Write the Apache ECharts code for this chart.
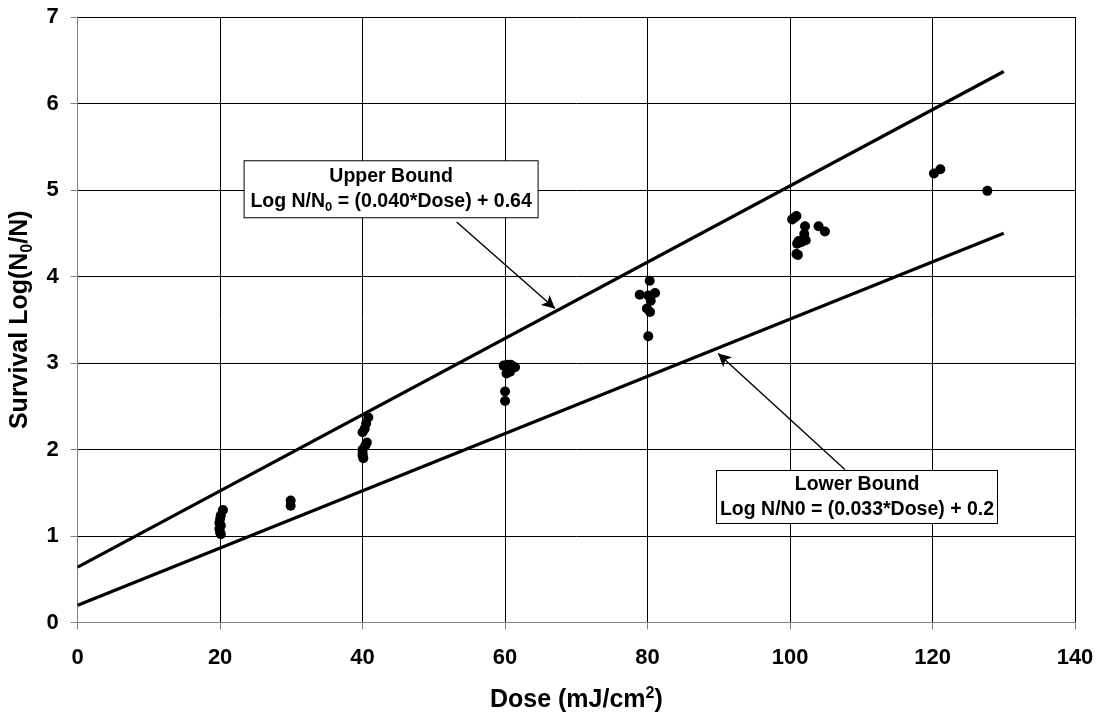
<!DOCTYPE html>
<html>
<head>
<meta charset="utf-8">
<script src="https://cdn.jsdelivr.net/npm/echarts@6/dist/echarts.min.js"></script>
<style>
html,body{margin:0;padding:0;background:#fff;}
#chart{width:1099px;height:718px;}
</style>
</head>
<body>
<div id="chart"></div>
<script>
// Measured points: dose (mJ/cm2) and survival log(N0/N)
const doses = [
  20.4, 20.1, 20.0, 19.9, 20.1, 19.9, 20.0, 20.1,
  29.9, 29.9,
  40.8, 40.5, 40.3, 40.0, 40.6, 40.4, 40.0, 40.0, 40.0, 40.1,
  59.8, 60.3, 60.8, 61.4, 60.5, 60.2, 60.7, 60.0, 60.0,
  80.3, 78.9, 80.1, 81.05, 80.45, 79.9, 80.35, 80.1,
  100.3, 100.6, 100.9, 101.2, 101.0, 101.6, 100.9, 101.1, 102.0, 102.2, 102.1, 104.0, 104.9,
  120.2, 121.1, 127.7
];
const survival = [
  1.30, 1.24, 1.20, 1.15, 1.12, 1.08, 1.04, 1.02,
  1.41, 1.35,
  2.37, 2.30, 2.24, 2.20, 2.08, 2.05, 2.00, 1.96, 1.93, 1.90,
  2.97, 2.98, 2.98, 2.95, 2.92, 2.88, 2.90, 2.67, 2.56,
  3.95, 3.79, 3.78, 3.81, 3.72, 3.63, 3.59, 3.31,
  4.66, 4.68, 4.70, 4.41, 4.38, 4.40, 4.26, 4.25, 4.49, 4.42, 4.58, 4.58, 4.52,
  5.19, 5.24, 4.99
];
// Bound lines (endpoints as drawn)
const boundDose = [0, 130];
const upperBound = [0.64, 6.37];
const lowerBound = [0.20, 4.50];
// Annotations
const upperLabelLines = ['Upper Bound', 'Log N/N', '0', ' = (0.040*Dose) + 0.64'];
const lowerLabelLines = ['Lower Bound', 'Log N/N0 = (0.033*Dose) + 0.2'];
const upperLabelPos = [44.0, 5.01];
const lowerLabelPos = [109.4, 1.45];
const upperArrow = [[53.2, 4.63], [67.0, 3.63]];
const lowerArrow = [[107.7, 1.77], [89.9, 3.11]];
// Axis ticks
const xTicks = {min: 0, max: 140, interval: 20};
const yTicks = {min: 0, max: 7, interval: 1};

const FONT = '"Liberation Sans", Arial, sans-serif';
const chart = echarts.init(document.getElementById('chart'), null, {renderer: 'canvas'});

const points = doses.map((d, i) => [d, survival[i]]);
const upperData = boundDose.map((d, i) => [d, upperBound[i]]);
const lowerData = boundDose.map((d, i) => [d, lowerBound[i]]);

const boxLabelBase = {
  show: true,
  position: 'inside',
  backgroundColor: '#fff',
  borderColor: '#000',
  borderWidth: 1,
  align: 'center',
  fontFamily: FONT,
  rich: {
    b: {fontFamily: FONT, fontWeight: 'bold', fontSize: 19.5, lineHeight: 25, color: '#000'},
    s: {fontFamily: FONT, fontWeight: 'bold', fontSize: 13, lineHeight: 13, color: '#000', verticalAlign: 'bottom'}
  }
};

const option = {
  animation: false,
  backgroundColor: '#fff',
  grid: {left: 77, right: 24, top: 17, bottom: 95, containLabel: false},
  xAxis: {
    type: 'value',
    min: xTicks.min, max: xTicks.max, interval: xTicks.interval,
    name: '{t|Dose (mJ/cm}{p|2}{t|)}',
    nameLocation: 'middle',
    nameGap: 63,
    nameTextStyle: {
      rich: {
        t: {fontFamily: FONT, fontWeight: 'bold', fontSize: 25, lineHeight: 30, color: '#000'},
        p: {fontFamily: FONT, fontWeight: 'bold', fontSize: 16, lineHeight: 16, color: '#000', verticalAlign: 'top'}
      }
    },
    axisLine: {show: true, lineStyle: {color: '#808080', width: 1}},
    axisTick: {show: true, length: 7, lineStyle: {color: '#808080'}},
    axisLabel: {margin: 24, fontFamily: FONT, fontWeight: 'bold', fontSize: 22, color: '#000'},
    splitLine: {show: true, lineStyle: {color: '#000', width: 1}}
  },
  yAxis: {
    type: 'value',
    min: yTicks.min, max: yTicks.max, interval: yTicks.interval,
    name: '{t|Survival Log(N}{s|0}{t|/N)}',
    nameLocation: 'middle',
    nameRotate: 90,
    nameGap: 38,
    nameTextStyle: {
      rich: {
        t: {fontFamily: FONT, fontWeight: 'bold', fontSize: 25, lineHeight: 30, color: '#000'},
        s: {fontFamily: FONT, fontWeight: 'bold', fontSize: 16, lineHeight: 16, color: '#000', verticalAlign: 'bottom'}
      }
    },
    axisLine: {show: true, lineStyle: {color: '#808080', width: 1}},
    axisTick: {show: true, length: 7, lineStyle: {color: '#808080'}},
    axisLabel: {margin: 19, fontFamily: FONT, fontWeight: 'bold', fontSize: 22, color: '#000'},
    splitLine: {show: true, lineStyle: {color: '#000', width: 1}}
  },
  series: [
    {
      name: 'Upper Bound', type: 'line', data: upperData, showSymbol: false, symbol: 'none',
      lineStyle: {color: '#000', width: 3.2}, z: 3,
      markLine: {
        silent: true, symbol: ['none', 'arrow'], symbolSize: [10, 13],
        lineStyle: {color: '#000', width: 1.4, type: 'solid'},
        label: {show: false},
        data: [
          [{coord: upperArrow[0]}, {coord: upperArrow[1]}],
          [{coord: lowerArrow[0]}, {coord: lowerArrow[1]}]
        ]
      },
      markPoint: {
        silent: true, symbol: 'rect', symbolSize: 0,
        data: [
          {coord: upperLabelPos, label: Object.assign({}, boxLabelBase, {
            width: 287, padding: [3, 3, 3, 3],
            formatter: '{b|' + upperLabelLines[0] + '}\n{b|' + upperLabelLines[1] + '}{s|' + upperLabelLines[2] + '}{b|' + upperLabelLines[3] + '}'
          })},
          {coord: lowerLabelPos, label: Object.assign({}, boxLabelBase, {
            width: 276, padding: [1, 2, 1, 2],
            formatter: '{b|' + lowerLabelLines[0] + '}\n{b|' + lowerLabelLines[1] + '}'
          })}
        ]
      }
    },
    {
      name: 'Lower Bound', type: 'line', data: lowerData, showSymbol: false, symbol: 'none',
      lineStyle: {color: '#000', width: 3.2}, z: 3
    },
    {
      name: 'Data', type: 'scatter', data: points, symbol: 'circle', symbolSize: 10,
      itemStyle: {color: '#000', opacity: 1}, z: 4
    }
  ]
};
chart.setOption(option);
</script>
</body>
</html>
